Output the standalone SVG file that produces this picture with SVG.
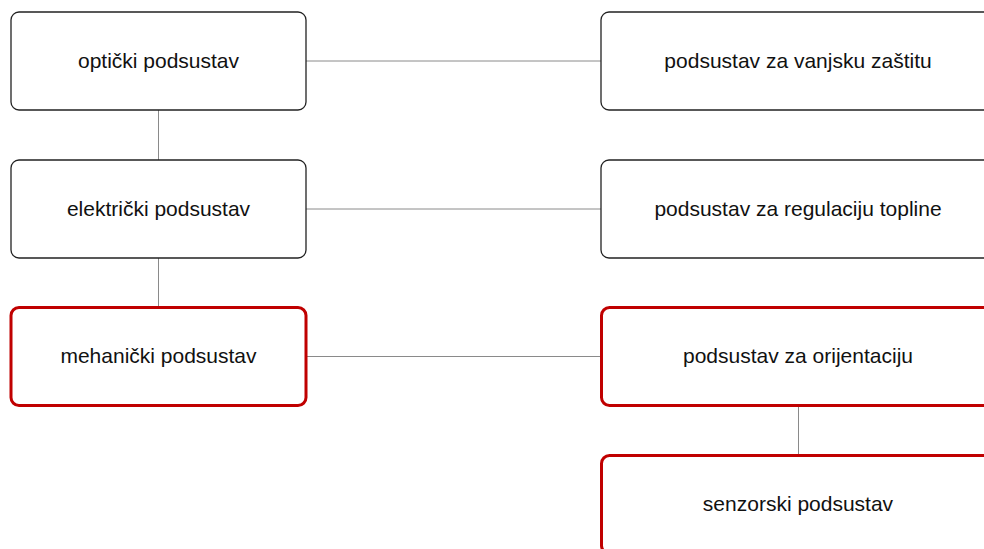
<svg xmlns="http://www.w3.org/2000/svg" width="984" height="549" viewBox="0 0 984 549">
  <style>
    .box { fill: #ffffff; stroke: #222222; stroke-width: 1.3; }
    .hl { fill: #ffffff; stroke: #c00000; stroke-width: 3; }
    .lbl { font-family: "Liberation Sans", Arial, sans-serif; font-size: 21px; fill: #111111; text-anchor: middle; dominant-baseline: central; }
    .link { stroke: #8a8a8a; stroke-width: 1; fill: none; }
  </style>
  <rect width="984" height="549" fill="#ffffff"/>
  <g id="connectors">
    <line class="link" x1="306" y1="61" x2="601" y2="61"/>
    <line class="link" x1="306" y1="209" x2="601" y2="209"/>
    <line class="link" x1="306" y1="356.5" x2="601" y2="356.5"/>
    <line class="link" x1="158.5" y1="110" x2="158.5" y2="160"/>
    <line class="link" x1="158.5" y1="258" x2="158.5" y2="307"/>
    <line class="link" x1="798.5" y1="406" x2="798.5" y2="455"/>
  </g>
  <g id="opticki">
    <rect class="box" x="11" y="12" width="295" height="98" rx="8"/>
    <text class="lbl" x="158.5" y="60">optički podsustav</text>
  </g>
  <g id="elektricki">
    <rect class="box" x="11" y="160" width="295" height="98" rx="8"/>
    <text class="lbl" x="158.5" y="208">električki podsustav</text>
  </g>
  <g id="mehanicki">
    <rect class="hl" x="11" y="307.5" width="295" height="98" rx="8"/>
    <text class="lbl" x="158.5" y="355.5">mehanički podsustav</text>
  </g>
  <g id="zastita">
    <rect class="box" x="601" y="12" width="394" height="98" rx="8"/>
    <text class="lbl" x="798" y="60">podsustav za vanjsku zaštitu</text>
  </g>
  <g id="toplina">
    <rect class="box" x="601" y="160" width="394" height="98" rx="8"/>
    <text class="lbl" x="798" y="208">podsustav za regulaciju topline</text>
  </g>
  <g id="orijentacija">
    <rect class="hl" x="601.5" y="307.5" width="394" height="98" rx="8"/>
    <text class="lbl" x="798" y="355.5">podsustav za orijentaciju</text>
  </g>
  <g id="senzorski">
    <rect class="hl" x="601.5" y="455.5" width="394" height="98" rx="8"/>
    <text class="lbl" x="798" y="503">senzorski podsustav</text>
  </g>
</svg>
